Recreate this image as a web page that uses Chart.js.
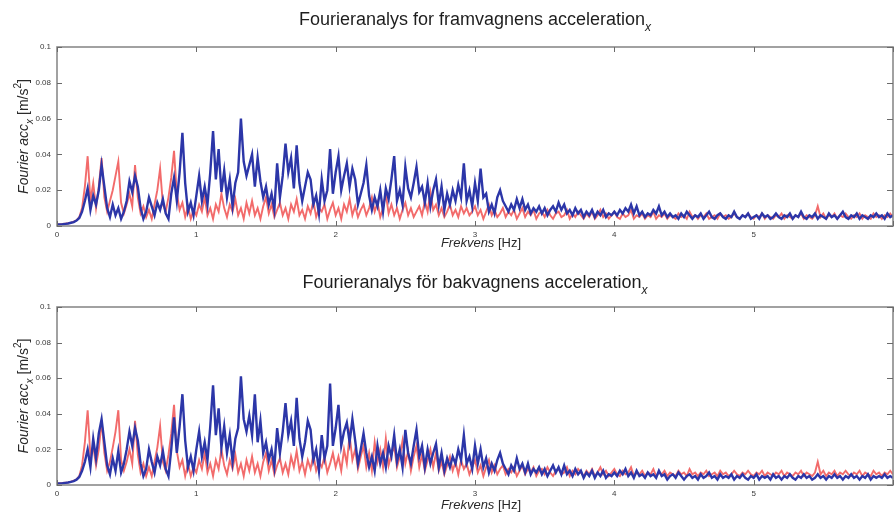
<!DOCTYPE html>
<html>
<head>
<meta charset="utf-8">
<script src="https://cdn.jsdelivr.net/npm/chart.js@4/dist/chart.umd.min.js"></script>
<style>
  html, body { margin: 0; padding: 0; background: #fff; overflow: hidden; width: 894px; height: 515px; }
  canvas { display: block; }
</style>
</head>
<body>
<canvas id="front" width="897" height="257"></canvas>
<canvas id="rear" width="897" height="258"></canvas>
<script>
// Spectrum sampling step (Hz); sample k sits at k * freqStep, from 0 to 6 Hz.
const freqStep = 0.02;

// Front body (framvagn) – red and blue spectra, m/s²
const frontRed = [
  0.0008, 0.0009, 0.0011, 0.0013, 0.0015, 0.0019, 0.0024, 0.0032, 0.005, 0.01,
  0.022, 0.039, 0.014, 0.024, 0.01, 0.022, 0.038, 0.016, 0.008, 0.014,
  0.02, 0.028, 0.036, 0.013, 0.007, 0.012, 0.018, 0.011, 0.034, 0.016,
  0.007, 0.011, 0.005, 0.009, 0.004, 0.012, 0.02, 0.032, 0.012, 0.008,
  0.016, 0.027, 0.042, 0.018, 0.009, 0.013, 0.005, 0.011, 0.004, 0.009,
  0.006, 0.012, 0.008, 0.016, 0.006, 0.01, 0.004, 0.012, 0.008, 0.018,
  0.01, 0.005, 0.012, 0.008, 0.015, 0.006, 0.01, 0.004, 0.013, 0.007,
  0.014, 0.006, 0.01, 0.004, 0.011, 0.016, 0.007, 0.012, 0.005, 0.009,
  0.013, 0.006, 0.01, 0.004, 0.012, 0.008, 0.015, 0.006, 0.009, 0.004,
  0.011, 0.007, 0.014, 0.005, 0.01, 0.008, 0.012, 0.004, 0.009, 0.013,
  0.006, 0.01, 0.004, 0.012, 0.008, 0.015, 0.006, 0.011, 0.005, 0.009,
  0.012, 0.006, 0.01, 0.016, 0.008, 0.013, 0.005, 0.01, 0.018, 0.007,
  0.012, 0.006, 0.01, 0.004, 0.009, 0.013, 0.006, 0.01, 0.005, 0.008,
  0.011, 0.006, 0.014, 0.008, 0.019, 0.009, 0.012, 0.006, 0.01, 0.005,
  0.008, 0.012, 0.006, 0.009, 0.005, 0.011, 0.007, 0.01, 0.006, 0.008,
  0.011, 0.006, 0.009, 0.004, 0.008, 0.012, 0.006, 0.009, 0.005, 0.007,
  0.01, 0.005, 0.008, 0.006, 0.009, 0.004, 0.007, 0.01, 0.005, 0.008,
  0.006, 0.009, 0.004, 0.007, 0.008, 0.005, 0.009, 0.006, 0.004, 0.007,
  0.008, 0.005, 0.006, 0.009, 0.004, 0.007, 0.005, 0.008, 0.006, 0.004,
  0.007, 0.005, 0.008, 0.004, 0.006, 0.009, 0.005, 0.007, 0.004, 0.006,
  0.008, 0.005, 0.004, 0.007, 0.005, 0.006, 0.009, 0.004, 0.006, 0.005,
  0.007, 0.004, 0.006, 0.005, 0.008, 0.004, 0.006, 0.005, 0.007, 0.004,
  0.006, 0.005, 0.004, 0.007, 0.005, 0.006, 0.004, 0.008, 0.005, 0.006,
  0.004, 0.006, 0.005, 0.007, 0.004, 0.005, 0.006, 0.004, 0.007, 0.005,
  0.006, 0.004, 0.005, 0.007, 0.005, 0.004, 0.006, 0.005, 0.007, 0.005,
  0.004, 0.006, 0.005, 0.007, 0.004, 0.006, 0.005, 0.004, 0.006, 0.005,
  0.007, 0.004, 0.006, 0.005, 0.004, 0.006, 0.005, 0.007, 0.004, 0.006,
  0.005, 0.004, 0.006, 0.011, 0.005, 0.007, 0.004, 0.006, 0.005, 0.007,
  0.004, 0.006, 0.005, 0.007, 0.005, 0.004, 0.006, 0.005, 0.007, 0.004,
  0.006, 0.005, 0.004, 0.007, 0.005, 0.006, 0.004, 0.006, 0.005, 0.007,
  0.005
];
const frontBlue = [
  0.0008, 0.0009, 0.001, 0.0012, 0.0014, 0.0018, 0.0022, 0.003, 0.0045, 0.008,
  0.014, 0.021, 0.009, 0.017, 0.012, 0.02, 0.034, 0.022, 0.01, 0.005,
  0.012, 0.006, 0.01, 0.004, 0.008, 0.014, 0.025, 0.019, 0.028, 0.022,
  0.01, 0.004, 0.008, 0.016, 0.011, 0.006, 0.013, 0.009, 0.015, 0.007,
  0.004, 0.018, 0.027, 0.014, 0.03, 0.052, 0.024, 0.008, 0.013, 0.006,
  0.017, 0.028, 0.014, 0.022, 0.012, 0.03, 0.053, 0.026, 0.043, 0.019,
  0.031, 0.016, 0.026, 0.011, 0.024, 0.03, 0.06, 0.036, 0.028, 0.034,
  0.04, 0.022, 0.038, 0.025, 0.016, 0.022, 0.012, 0.018, 0.009, 0.035,
  0.016, 0.028, 0.046, 0.03, 0.038, 0.021, 0.045, 0.024, 0.014, 0.022,
  0.03, 0.026, 0.012, 0.017, 0.007, 0.026, 0.014, 0.02, 0.043, 0.018,
  0.03, 0.039, 0.02, 0.028, 0.035, 0.022, 0.032, 0.026, 0.012, 0.018,
  0.024, 0.034, 0.017, 0.009, 0.016, 0.011, 0.02, 0.008, 0.021, 0.015,
  0.026, 0.039, 0.014, 0.02, 0.012, 0.033, 0.021, 0.016, 0.024, 0.033,
  0.019, 0.022, 0.013, 0.024, 0.011, 0.02, 0.026, 0.012, 0.022, 0.009,
  0.018, 0.012, 0.02, 0.014, 0.023, 0.016, 0.035, 0.014, 0.02, 0.011,
  0.024, 0.014, 0.032, 0.016, 0.018, 0.008, 0.012, 0.007, 0.016, 0.02,
  0.014, 0.011, 0.008, 0.012, 0.009, 0.015, 0.01, 0.015, 0.009, 0.012,
  0.007, 0.01, 0.008, 0.011, 0.007, 0.01, 0.006, 0.009, 0.011, 0.008,
  0.013, 0.009, 0.012, 0.007, 0.009, 0.006, 0.01, 0.007, 0.009, 0.005,
  0.008, 0.006, 0.009, 0.005, 0.008, 0.006, 0.009, 0.005, 0.007, 0.006,
  0.008, 0.006, 0.009, 0.007, 0.01, 0.008, 0.012, 0.007, 0.011, 0.006,
  0.008, 0.005, 0.007, 0.006, 0.009, 0.007, 0.011, 0.006, 0.008, 0.005,
  0.007, 0.005, 0.006, 0.004, 0.007, 0.005, 0.008, 0.006, 0.004, 0.006,
  0.005, 0.007, 0.004, 0.006, 0.008, 0.005, 0.004, 0.006, 0.007, 0.005,
  0.004, 0.006, 0.005, 0.008, 0.005, 0.004, 0.006, 0.005, 0.007, 0.004,
  0.005, 0.006, 0.004, 0.007, 0.005, 0.006, 0.004, 0.005, 0.007, 0.005,
  0.004, 0.006, 0.005, 0.007, 0.004, 0.006, 0.005, 0.008, 0.005, 0.004,
  0.006, 0.005, 0.007, 0.004, 0.006, 0.005, 0.004, 0.007, 0.005, 0.006,
  0.004, 0.006, 0.008, 0.005, 0.004, 0.006, 0.005, 0.007, 0.004, 0.006,
  0.005, 0.004, 0.006, 0.005, 0.007, 0.005, 0.006, 0.004, 0.007, 0.005,
  0.006
];

// Rear body (bakvagn) – red and blue spectra, m/s²
const rearRed = [
  0.0008, 0.0009, 0.0011, 0.0013, 0.0015, 0.0019, 0.0024, 0.0032, 0.005, 0.011,
  0.024, 0.042, 0.016, 0.022, 0.011, 0.02, 0.036, 0.018, 0.008, 0.013,
  0.021, 0.03, 0.042, 0.014, 0.008, 0.013, 0.02, 0.012, 0.036, 0.017,
  0.007, 0.012, 0.005, 0.01, 0.005, 0.013, 0.021, 0.033, 0.013, 0.008,
  0.017, 0.029, 0.045, 0.019, 0.01, 0.014, 0.005, 0.012, 0.005, 0.01,
  0.007, 0.014, 0.009, 0.018, 0.007, 0.012, 0.005, 0.014, 0.009, 0.02,
  0.011, 0.006, 0.014, 0.009, 0.017, 0.007, 0.012, 0.005, 0.014, 0.008,
  0.016, 0.007, 0.012, 0.005, 0.013, 0.018, 0.008, 0.014, 0.006, 0.011,
  0.015, 0.007, 0.012, 0.006, 0.016, 0.01, 0.019, 0.008, 0.013, 0.006,
  0.014, 0.009, 0.017, 0.008, 0.013, 0.01, 0.016, 0.007, 0.012, 0.018,
  0.01, 0.016, 0.008, 0.02, 0.012, 0.028, 0.014, 0.02, 0.009, 0.016,
  0.022, 0.01, 0.018, 0.008, 0.024, 0.013, 0.02, 0.01, 0.026, 0.011,
  0.017, 0.022, 0.01, 0.016, 0.025, 0.012, 0.019, 0.008, 0.016, 0.022,
  0.01, 0.017, 0.008, 0.014, 0.02, 0.01, 0.018, 0.008, 0.013, 0.006,
  0.011, 0.016, 0.008, 0.013, 0.006, 0.014, 0.009, 0.012, 0.006, 0.01,
  0.014, 0.007, 0.011, 0.005, 0.01, 0.014, 0.007, 0.011, 0.006, 0.009,
  0.011, 0.006, 0.009, 0.007, 0.01, 0.005, 0.008, 0.011, 0.006, 0.009,
  0.007, 0.01, 0.005, 0.008, 0.009, 0.006, 0.01, 0.007, 0.005, 0.008,
  0.009, 0.006, 0.007, 0.01, 0.005, 0.008, 0.006, 0.009, 0.007, 0.005,
  0.008, 0.006, 0.009, 0.005, 0.007, 0.01, 0.006, 0.008, 0.005, 0.007,
  0.009, 0.006, 0.005, 0.008, 0.006, 0.007, 0.01, 0.005, 0.007, 0.006,
  0.008, 0.005, 0.007, 0.006, 0.009, 0.005, 0.007, 0.006, 0.008, 0.005,
  0.007, 0.006, 0.005, 0.008, 0.006, 0.007, 0.005, 0.009, 0.006, 0.007,
  0.005, 0.007, 0.006, 0.008, 0.005, 0.006, 0.007, 0.005, 0.008, 0.006,
  0.007, 0.005, 0.006, 0.008, 0.006, 0.005, 0.007, 0.006, 0.008, 0.006,
  0.005, 0.007, 0.006, 0.008, 0.005, 0.007, 0.006, 0.005, 0.007, 0.006,
  0.008, 0.005, 0.007, 0.006, 0.005, 0.007, 0.006, 0.008, 0.005, 0.007,
  0.006, 0.005, 0.007, 0.013, 0.006, 0.008, 0.005, 0.007, 0.006, 0.008,
  0.005, 0.007, 0.006, 0.008, 0.006, 0.005, 0.007, 0.006, 0.008, 0.005,
  0.007, 0.006, 0.005, 0.008, 0.006, 0.007, 0.005, 0.007, 0.006, 0.008,
  0.006
];
const rearBlue = [
  0.0008, 0.0009, 0.001, 0.0012, 0.0014, 0.0018, 0.0022, 0.003, 0.0045, 0.008,
  0.013, 0.02, 0.01, 0.026, 0.015, 0.029, 0.037, 0.024, 0.011, 0.006,
  0.015, 0.008, 0.019, 0.007, 0.012, 0.02, 0.03, 0.022, 0.032, 0.025,
  0.012, 0.005, 0.009, 0.02, 0.013, 0.007, 0.016, 0.011, 0.019, 0.009,
  0.005, 0.02, 0.038, 0.018, 0.033, 0.051, 0.025, 0.01, 0.016, 0.008,
  0.02, 0.03, 0.016, 0.024, 0.014, 0.033, 0.056, 0.028, 0.043, 0.021,
  0.033, 0.018, 0.028, 0.013, 0.026, 0.032, 0.061, 0.037, 0.03, 0.039,
  0.028, 0.051, 0.024, 0.036, 0.018, 0.024, 0.014, 0.02, 0.01, 0.032,
  0.018, 0.03, 0.046, 0.028, 0.036, 0.022, 0.049, 0.026, 0.016, 0.024,
  0.036, 0.031, 0.014, 0.02, 0.008, 0.028, 0.015, 0.022, 0.057, 0.022,
  0.032, 0.045, 0.022, 0.03, 0.035, 0.024, 0.037, 0.025, 0.012, 0.02,
  0.029, 0.018, 0.01, 0.016, 0.008, 0.022, 0.012, 0.018, 0.01, 0.022,
  0.016, 0.028, 0.013, 0.02, 0.01, 0.031, 0.018, 0.012, 0.022, 0.031,
  0.016, 0.022, 0.01, 0.02, 0.012, 0.018, 0.023, 0.01, 0.018, 0.008,
  0.015, 0.01, 0.016, 0.012, 0.02, 0.014, 0.028, 0.012, 0.016, 0.009,
  0.022, 0.012, 0.02, 0.01, 0.015, 0.007, 0.012, 0.008, 0.014, 0.018,
  0.012, 0.009, 0.006, 0.011, 0.008, 0.015, 0.009, 0.012, 0.007, 0.012,
  0.006, 0.009, 0.007, 0.01, 0.006, 0.009, 0.005, 0.008, 0.011, 0.007,
  0.01, 0.006, 0.011, 0.006, 0.008, 0.005, 0.009, 0.006, 0.008, 0.004,
  0.007, 0.005, 0.008, 0.004, 0.007, 0.005, 0.008, 0.004, 0.006, 0.005,
  0.007, 0.005, 0.008, 0.006, 0.009, 0.005, 0.007, 0.004, 0.008, 0.005,
  0.006, 0.004, 0.007, 0.005, 0.006, 0.004, 0.008, 0.005, 0.006, 0.003,
  0.005, 0.006, 0.004, 0.007, 0.005, 0.003, 0.005, 0.006, 0.004, 0.005,
  0.003, 0.006, 0.004, 0.005, 0.007, 0.004, 0.005, 0.003, 0.006, 0.004,
  0.005, 0.004, 0.006, 0.003, 0.005, 0.004, 0.006, 0.004, 0.003, 0.005,
  0.004, 0.006, 0.003, 0.005, 0.004, 0.005, 0.003, 0.006, 0.004, 0.005,
  0.003, 0.005, 0.004, 0.006, 0.004, 0.003, 0.005, 0.004, 0.006, 0.004,
  0.005, 0.003, 0.004, 0.006, 0.004, 0.005, 0.003, 0.005, 0.004, 0.006,
  0.004, 0.005, 0.003, 0.005, 0.004, 0.006, 0.004, 0.005, 0.003, 0.005,
  0.004, 0.006, 0.003, 0.005, 0.004, 0.005, 0.004, 0.006, 0.004, 0.005,
  0.004
];

// Axis ticks
const yTickValues = [0, 0.02, 0.04, 0.06, 0.08, 0.1];
const yTickLabels = ['0', '0.02', '0.04', '0.06', '0.08', '0.1'];
const xTickValues = [0, 1, 2, 3, 4, 5, 6];
const xTickLabels = ['0', '1', '2', '3', '4', '5', ''];

const FONT = '"Liberation Sans", Arial, Helvetica, sans-serif';
const RED = 'rgba(240, 86, 86, 0.88)';
const BLUE = 'rgb(44, 54, 168)';

const toPoints = arr => arr.map((v, k) => ({ x: +(k * freqStep).toFixed(3), y: v }));

// Draws a run of text pieces (italic / subscript / superscript) centred at (cx, cy)
function drawRich(ctx, parts, cx, cy, size, rotate, color) {
  ctx.save();
  ctx.translate(cx, cy);
  if (rotate) ctx.rotate(-Math.PI / 2);
  const fontFor = p => `${p.italic ? 'italic ' : ''}${(p.sub || p.sup) ? Math.round(size * 0.68) : size}px ${FONT}`;
  let total = 0;
  parts.forEach(p => { ctx.font = fontFor(p); p.w = ctx.measureText(p.t).width; total += p.w; });
  let x = -total / 2;
  ctx.textAlign = 'left';
  ctx.textBaseline = 'middle';
  ctx.fillStyle = color;
  parts.forEach(p => {
    ctx.font = fontFor(p);
    const dy = p.sub ? size * 0.42 : (p.sup ? -size * 0.38 : 0);
    ctx.fillText(p.t, x, dy);
    x += p.w;
  });
  ctx.restore();
}

// MATLAB-like box with inward tick marks plus the titles
const boxedAxes = {
  id: 'boxedAxes',
  afterDraw(chart, args, opts) {
    const { ctx, chartArea: a, scales: { x, y } } = chart;
    ctx.save();
    ctx.strokeStyle = '#8a8a8a';
    ctx.lineWidth = 1.6;
    ctx.strokeRect(a.left, a.top, a.right - a.left, a.bottom - a.top);
    ctx.strokeStyle = '#6a6a6a';
    ctx.lineWidth = 1;
    ctx.beginPath();
    xTickValues.forEach(v => {
      const px = Math.round(x.getPixelForValue(v)) + 0.5;
      ctx.moveTo(px, a.bottom); ctx.lineTo(px, a.bottom - 5);
      ctx.moveTo(px, a.top); ctx.lineTo(px, a.top + 5);
    });
    yTickValues.forEach(v => {
      const py = Math.round(y.getPixelForValue(v)) + 0.5;
      ctx.moveTo(a.left, py); ctx.lineTo(a.left + 5, py);
      ctx.moveTo(a.right, py); ctx.lineTo(a.right - 6, py);
    });
    ctx.stroke();
    ctx.restore();

    const midX = (a.left + a.right) / 2;
    drawRich(ctx, opts.title, midX, opts.titleY, 18, false, '#1e1e1e');
    drawRich(ctx, [
      { t: 'Frekvens', italic: true },
      { t: ' [Hz]' }
    ], midX + 6, opts.xLabelY, 13, false, '#2a2a2a');
    drawRich(ctx, [
      { t: 'Fourier acc', italic: true },
      { t: 'x', sub: true, italic: true },
      { t: ' [m/s' },
      { t: '2', sup: true },
      { t: ']' }
    ], 24, (a.top + a.bottom) / 2, 14, true, '#2a2a2a');
  }
};

function makeChart(id, red, blue, opts) {
  return new Chart(document.getElementById(id), {
    type: 'line',
    data: {
      datasets: [
        { data: toPoints(blue), borderColor: BLUE, borderWidth: 2.4, pointRadius: 0, tension: 0, order: 0 },
        { data: toPoints(red), borderColor: RED, borderWidth: 1.9, pointRadius: 0, tension: 0, order: 1 }
      ]
    },
    options: {
      responsive: false,
      animation: false,
      events: [],
      layout: { padding: { left: 0, right: 1, top: opts.top, bottom: 0 } },
      plugins: {
        legend: { display: false },
        title: { display: false },
        tooltip: { enabled: false },
        boxedAxes: opts
      },
      scales: {
        x: {
          type: 'linear', min: 0, max: 6,
          grid: { display: false, drawTicks: false },
          border: { display: false },
          afterBuildTicks: s => { s.ticks = xTickValues.map(v => ({ value: v })); },
          ticks: {
            autoSkip: false, maxRotation: 0, padding: 4,
            color: '#3a3a3a', font: { size: 8, family: FONT },
            callback: v => xTickLabels[xTickValues.indexOf(v)]
          },
          afterFit: s => { s.height = opts.xHeight; }
        },
        y: {
          type: 'linear', min: 0, max: 0.1,
          grid: { display: false, drawTicks: false },
          border: { display: false },
          afterBuildTicks: s => { s.ticks = yTickValues.map(v => ({ value: v })); },
          ticks: {
            autoSkip: false, padding: 6,
            color: '#3a3a3a', font: { size: 8, family: FONT },
            callback: v => yTickLabels[yTickValues.indexOf(v)]
          },
          afterFit: s => { s.width = 57; }
        }
      }
    },
    plugins: [boxedAxes]
  });
}

makeChart('front', frontRed, frontBlue, {
  top: 47, xHeight: 31, titleY: 20, xLabelY: 243,
  title: [
    { t: 'Fourieranalys for framvagnens acceleration' },
    { t: 'x', sub: true, italic: true }
  ]
});
makeChart('rear', rearRed, rearBlue, {
  top: 50, xHeight: 30, titleY: 26, xLabelY: 248,
  title: [
    { t: 'Fourieranalys för bakvagnens acceleration' },
    { t: 'x', sub: true, italic: true }
  ]
});
</script>
</body>
</html>
